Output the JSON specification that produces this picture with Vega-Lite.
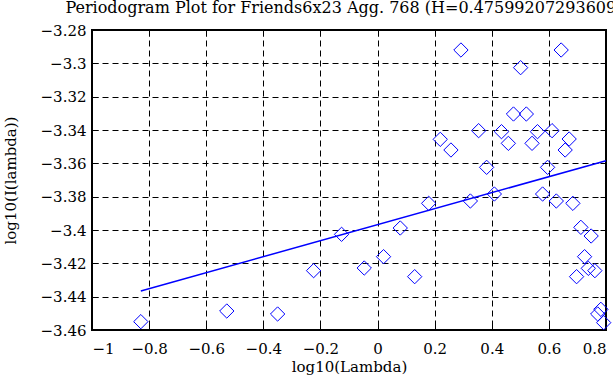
{
  "$schema": "https://vega.github.io/schema/vega-lite/v6.json",
  "autosize": "none",
  "width": 514,
  "height": 300,
  "padding": {"left": 92, "top": 30, "right": 7, "bottom": 55},
  "background": "white",
  "title": {
    "text": "Periodogram Plot for Friends6x23 Agg. 768 (H=0.475992072936093)",
    "font": "DejaVu Serif",
    "fontSize": 16,
    "fontWeight": "normal",
    "color": "black",
    "anchor": "middle",
    "offset": 7
  },
  "config": {
    "view": {"stroke": "black", "strokeWidth": 2},
    "axis": {
      "labelFont": "DejaVu Serif",
      "labelFontSize": 15,
      "labelColor": "black",
      "titleFont": "DejaVu Serif",
      "titleFontSize": 15,
      "titleFontWeight": "normal",
      "titleColor": "black",
      "tickColor": "black",
      "tickSize": -6,
      "tickWidth": 1,
      "domain": false,
      "gridColor": "black",
      "gridDash": [6, 4],
      "gridOpacity": 1,
      "gridWidth": 1
    }
  },
  "datasets": {
    "pts": [
      {"lx": 0.292, "ly": -3.292},
      {"lx": 0.643, "ly": -3.292},
      {"lx": 0.501, "ly": -3.3026},
      {"lx": 0.476, "ly": -3.3304},
      {"lx": 0.521, "ly": -3.3304},
      {"lx": 0.354, "ly": -3.3404},
      {"lx": 0.434, "ly": -3.341},
      {"lx": 0.560, "ly": -3.341},
      {"lx": 0.611, "ly": -3.3404},
      {"lx": 0.2196, "ly": -3.3456},
      {"lx": 0.671, "ly": -3.3454},
      {"lx": 0.257, "ly": -3.352},
      {"lx": 0.458, "ly": -3.348},
      {"lx": 0.541, "ly": -3.348},
      {"lx": 0.657, "ly": -3.352},
      {"lx": 0.382, "ly": -3.3624},
      {"lx": 0.5955, "ly": -3.3624},
      {"lx": -0.126, "ly": -3.4026},
      {"lx": 0.179, "ly": -3.384},
      {"lx": 0.325, "ly": -3.3826},
      {"lx": 0.409, "ly": -3.3784},
      {"lx": 0.578, "ly": -3.3784},
      {"lx": 0.626, "ly": -3.3826},
      {"lx": 0.684, "ly": -3.384},
      {"lx": 0.0795, "ly": -3.3988},
      {"lx": 0.712, "ly": -3.3984},
      {"lx": 0.748, "ly": -3.4036},
      {"lx": 0.021, "ly": -3.416},
      {"lx": -0.0466, "ly": -3.4228},
      {"lx": 0.725, "ly": -3.416},
      {"lx": 0.130, "ly": -3.428},
      {"lx": 0.697, "ly": -3.428},
      {"lx": 0.738, "ly": -3.423},
      {"lx": 0.761, "ly": -3.4244},
      {"lx": 0.782, "ly": -3.4476},
      {"lx": 0.771, "ly": -3.4504},
      {"lx": 0.792, "ly": -3.4556},
      {"lx": -0.829, "ly": -3.455},
      {"lx": -0.528, "ly": -3.4486},
      {"lx": -0.350, "ly": -3.4504},
      {"lx": -0.224, "ly": -3.4244}
    ],
    "fit": [
      {"lx": -0.829, "ly": -3.4366},
      {"lx": 0.8, "ly": -3.3584}
    ]
  },
  "resolve": {"axis": {"x": "independent", "y": "independent"}},
  "layer": [
    {
      "data": {"name": "pts"},
      "mark": {"type": "point", "shape": "diamond", "filled": false, "color": "#0000ff", "size": 205, "strokeWidth": 1, "opacity": 1},
      "encoding": {
        "x": {
          "field": "lx", "type": "quantitative",
          "scale": {"domain": [-1, 0.8], "nice": false, "zero": false},
          "axis": {"orient": "bottom", "title": "log10(Lambda)", "values": [-1, -0.8, -0.6, -0.4, -0.2, 0, 0.2, 0.4, 0.6, 0.8], "format": "~f", "grid": true, "labelPadding": 17, "titlePadding": 3, "labelFont": "DejaVu Serif", "labelFontSize": 15}
        },
        "y": {
          "field": "ly", "type": "quantitative",
          "scale": {"domain": [-3.46, -3.28], "nice": false, "zero": false},
          "axis": {"orient": "left", "title": "log10(I(lambda))", "values": [-3.46, -3.44, -3.42, -3.4, -3.38, -3.36, -3.34, -3.32, -3.3, -3.28], "format": "~f", "grid": true, "labelPadding": 12, "titlePadding": 22, "labelFont": "DejaVu Serif", "labelFontSize": 15}
        }
      }
    },
    {
      "data": {"name": "fit"},
      "mark": {"type": "line", "color": "#0000ff", "strokeWidth": 1.5},
      "encoding": {
        "x": {
          "field": "lx", "type": "quantitative",
          "axis": {"orient": "top", "title": null, "labels": false, "grid": false, "values": [-1, -0.8, -0.6, -0.4, -0.2, 0, 0.2, 0.4, 0.6, 0.8]}
        },
        "y": {
          "field": "ly", "type": "quantitative",
          "axis": {"orient": "right", "title": null, "labels": false, "grid": false, "values": [-3.46, -3.44, -3.42, -3.4, -3.38, -3.36, -3.34, -3.32, -3.3, -3.28]}
        }
      }
    }
  ]
}
